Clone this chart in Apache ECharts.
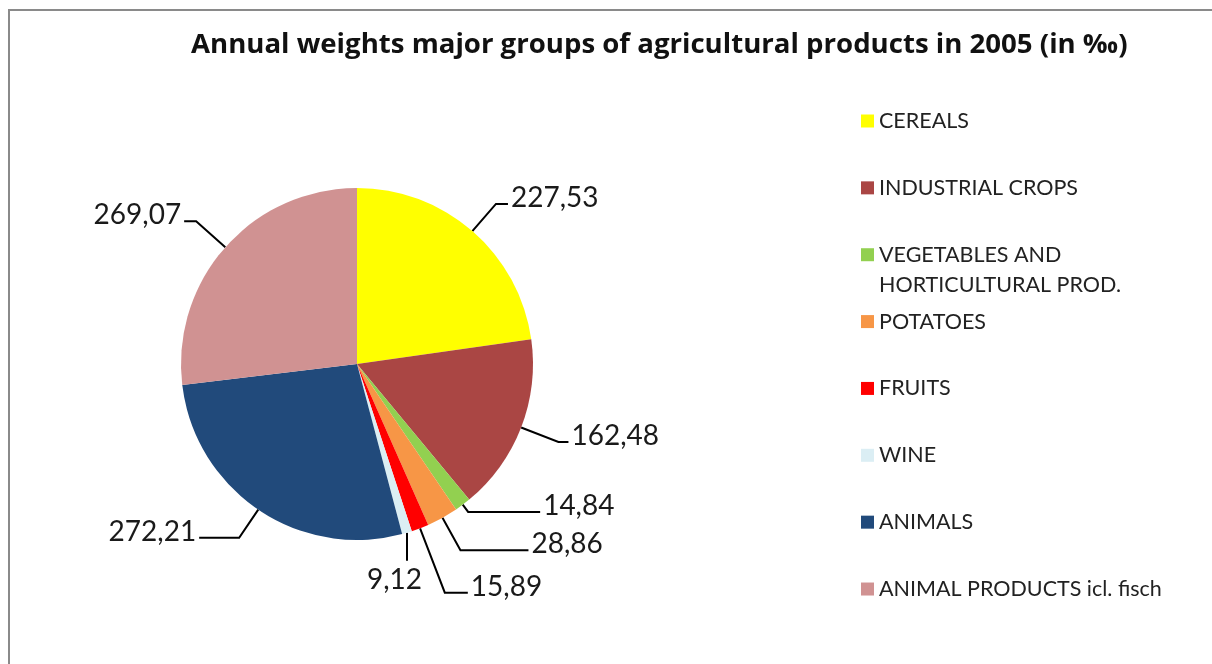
<!DOCTYPE html>
<html>
<head>
<meta charset="utf-8">
<script src="https://cdn.jsdelivr.net/npm/echarts@6/dist/echarts.min.js"></script>
<style>
html,body{margin:0;padding:0;background:#fff;}
#chart{width:1212px;height:664px;}
</style>
</head>
<body>
<div id="chart"></div>
<script>
const titleText = 'Annual weights major groups of agricultural products in 2005 (in ‰)';
const categories = ['CEREALS', 'INDUSTRIAL CROPS', 'VEGETABLES AND HORTICULTURAL PROD.', 'POTATOES', 'FRUITS', 'WINE', 'ANIMALS', 'ANIMAL PRODUCTS icl. fisch'];
const values = [227.53, 162.48, 14.84, 28.86, 15.89, 9.12, 272.21, 269.07];
const legendLabels = ['CEREALS', 'INDUSTRIAL CROPS', '\nVEGETABLES AND\nHORTICULTURAL PROD.', 'POTATOES', 'FRUITS', 'WINE', 'ANIMALS', 'ANIMAL PRODUCTS icl. fisch'];

// styling (not data)
const colors = ['#FFFF00', '#AA4644', '#92D050', '#F79646', '#FF0000', '#DBEEF4', '#214A7B', '#D09292'];
const lineLen = [36, 40, 9, 37, 69, 28, 34, 39];
const lineLen2 = [12, 10, 72, 68, 23, 0, 40, 12];
const FONT = 'Lato';

const chart = echarts.init(document.getElementById('chart'), null, {renderer: 'canvas'});

const pieData = categories.map((c, i) => ({
  name: c,
  value: values[i],
  itemStyle: {color: colors[i]},
  labelLine: {length: lineLen[i], length2: lineLen2[i]}
}));

const legendStart = 121, legendStep = 66.86, legendLH = 30;
const legends = categories.map((c, i) => {
  const nLines = legendLabels[i].split('\n').length;
  return {
    data: [c],
    orient: 'vertical',
    left: 861,
    top: legendStart + i * legendStep - nLines * legendLH / 2,
    padding: 0,
    itemWidth: 13,
    itemHeight: 13,
    icon: 'rect',
    selectedMode: false,
    formatter: () => legendLabels[i],
    textStyle: {fontFamily: FONT, fontSize: 21.5, color: '#222', lineHeight: legendLH}
  };
});

const option = {
  animation: false,
  backgroundColor: '#fff',
  title: {
    text: titleText,
    left: 186,
    top: 26,
    textStyle: {fontFamily: 'Open Sans', fontWeight: 'bold', fontSize: 27.6, color: '#111'}
  },
  graphic: [{
    type: 'rect',
    shape: {x: 9, y: 10, width: 1400, height: 900},
    style: {fill: 'none', stroke: '#8a8a8a', lineWidth: 2},
    silent: true,
    z: -1
  }],
  legend: legends,
  series: [{
    type: 'pie',
    center: [357, 364],
    radius: 176,
    startAngle: 90,
    clockwise: true,
    avoidLabelOverlap: false,
    data: pieData,
    itemStyle: {borderWidth: 0},
    label: {
      show: true,
      position: 'outside',
      fontFamily: FONT,
      fontSize: 28,
      color: '#1a1a1a',
      distanceToLabelLine: 3,
      formatter: p => p.value.toFixed(2).replace('.', ',')
    },
    labelLine: {
      show: true,
      smooth: false,
      lineStyle: {color: '#000', width: 2}
    },
    labelLayout: function (params) {
      if (params.dataIndex === 5) {
        const p0 = params.labelLinePoints[0];
        return {
          x: p0[0] + 15,
          y: p0[1] + 33,
          align: 'right',
          verticalAlign: 'top',
          labelLinePoints: [p0, [p0[0], p0[1] + 28], [p0[0], p0[1] + 28]]
        };
      }
      return {dy: -6, labelLinePoints: params.labelLinePoints};
    }
  }]
};
chart.setOption(option);
</script>
</body>
</html>
